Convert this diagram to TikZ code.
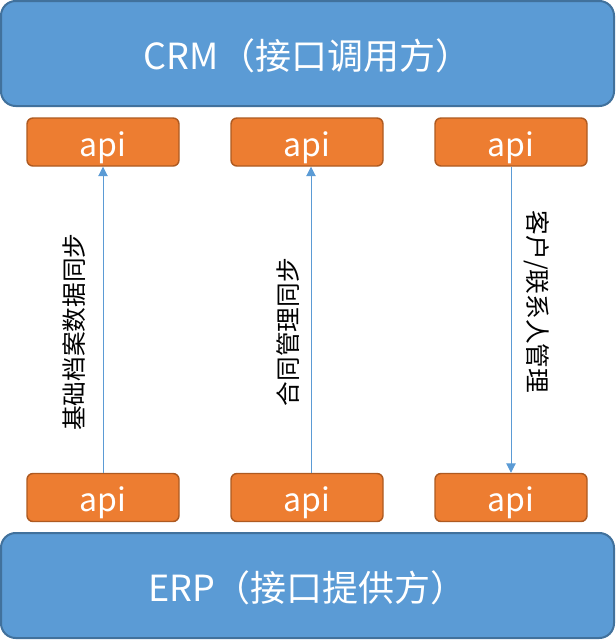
\documentclass[tikz,border=0pt]{standalone}
\usepackage{fontspec}
\setmainfont{Noto Sans CJK SC}
\usetikzlibrary{arrows.meta}

\definecolor{boxblue}{RGB}{91,155,213}
\definecolor{boxblueline}{RGB}{65,113,156}
\definecolor{apiorange}{RGB}{237,125,49}
\definecolor{apiline}{RGB}{174,90,33}

\tikzset{every picture/.style={line width=0.75pt}}
\tikzset{
  sysbox/.style={draw=boxblueline, line width=1.5pt, fill=boxblue, rounded corners=11pt,
    minimum width=459.75pt, minimum height=78.75pt, inner sep=0pt, text=white,
    text height=26pt, text depth=2.4pt, font=\fontsize{27}{32}\selectfont},
  apibox/.style={draw=apiline, line width=1.1pt, fill=apiorange, rounded corners=4.5pt,
    minimum width=114pt, minimum height=36pt, inner sep=0pt, text=white,
    text height=21pt, text depth=0pt, font=\fontsize{24}{28}\selectfont},
  syncline/.style={draw=boxblue, line width=0.75pt, -{Triangle[length=7pt,width=7pt]}},
  synctext/.style={font=\fontsize{18.5}{22}\selectfont, inner sep=0pt}
}

\begin{document}
\begin{tikzpicture}[x=0.75pt,y=0.75pt,yscale=-1,xscale=1]
\useasboundingbox (0,0) rectangle (615,640);

%Rounded Rect: calling side
\node [sysbox] (crm) at (307.5,53.5) {CRM（接口调用方）};
%Rounded Rect: providing side
\node [sysbox] (erp) at (307.5,585.5) {ERP（接口提供方）};

%Rounded Rect: api on CRM side
\node [apibox] (crmapia) at (103,142) {api};
\node [apibox] (crmapib) at (307,142) {api};
\node [apibox] (crmapic) at (511,142) {api};
%Rounded Rect: api on ERP side
\node [apibox] (erpapia) at (103,497.5) {api};
\node [apibox] (erpapib) at (307,497.5) {api};
\node [apibox] (erpapic) at (511,497.5) {api};

%Straight Lines: sync calls
\draw [syncline] (erpapia.north) -- (crmapia.south);
\draw [syncline] ([xshift=3pt]erpapib.north) -- ([xshift=3pt]crmapib.south);
\draw [syncline] (crmapic.south) -- (erpapic.north);

% Text Node
\node [synctext, rotate=90] (lbla) at (74,332) {基础档案数据同步};
% Text Node
\node [synctext, rotate=90] (lblb) at (288,332) {合同管理同步};
% Text Node
\node [synctext, rotate=-90] (lblc) at (537,302) {客户/联系人管理};

\end{tikzpicture}
\end{document}
